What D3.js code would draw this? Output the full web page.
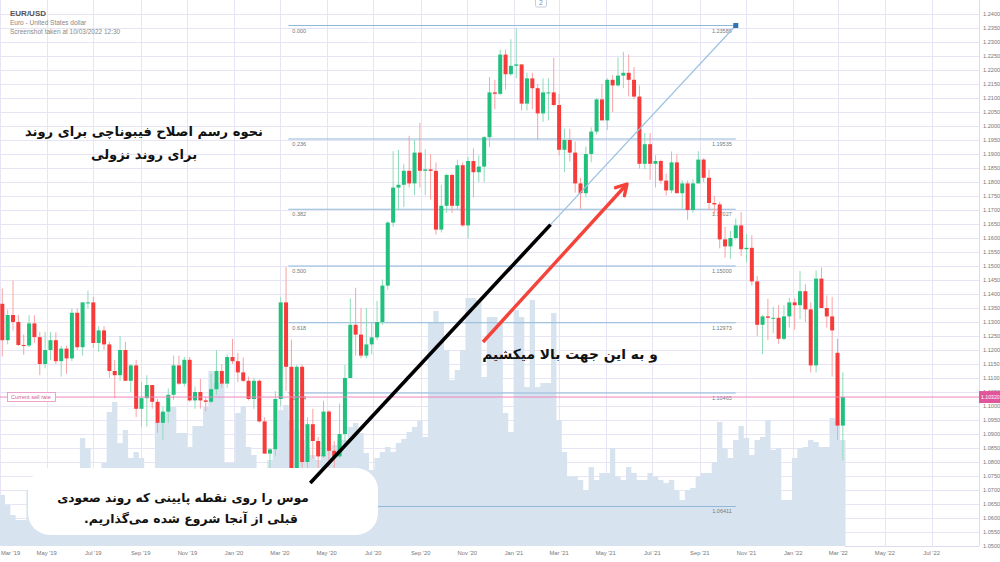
<!DOCTYPE html>
<html><head><meta charset="utf-8">
<script src="https://cdn.jsdelivr.net/npm/d3@7"></script>
<style>
html,body{margin:0;padding:0;background:#fff;}
svg{display:block;font-family:"Liberation Sans",Arial,sans-serif;}
</style>
</head><body>
<svg id="c" width="1000" height="562"></svg>
<script>
// ---------------- DATA ----------------
const firstWeek = new Date(2019, 2, 4);   // weekly candles, Monday of each week
const lastWeek  = new Date(2022, 2, 7);

const opens = [1.1365,1.1235,1.1325,1.1300,1.1218,1.1216,1.1295,1.1246,1.1150,1.1200,
1.1235,1.1160,1.1205,1.1170,1.1333,1.1210,1.1370,1.1370,1.1225,1.1270,
1.1220,1.1125,1.1110,1.1200,1.1090,1.1145,1.0990,1.1028,1.1075,1.1015,
1.0940,1.0980,1.1040,1.1145,1.1080,1.1165,1.1020,1.1050,1.1020,1.1015,
1.1060,1.1125,1.1080,1.1175,1.1160,1.1120,1.1090,1.1025,1.1090,1.0945,
1.0830,1.0845,1.1025,1.1370,1.1140,1.0690,1.1140,1.0800,1.0935,1.0875,
1.0820,1.0980,1.0840,1.0820,1.0900,1.1100,1.1290,1.1255,1.1180,1.1220,
1.1245,1.1300,1.1430,1.1655,1.1780,1.1790,1.1840,1.1795,1.1905,1.1840,
1.1845,1.1840,1.1630,1.1715,1.1825,1.1715,1.1860,1.1645,1.1875,1.1835,
1.1855,1.1960,1.2120,1.2115,1.2255,1.2185,1.2215,1.2220,1.2080,1.2170,
1.2135,1.2045,1.2120,1.2120,1.2075,1.1915,1.1950,1.1905,1.1795,1.1760,
1.1900,1.1980,1.2095,1.2020,1.2165,1.2145,1.2180,1.2190,1.2165,1.2105,
1.1865,1.1935,1.1865,1.1875,1.1805,1.1770,1.1870,1.1760,1.1795,1.1700,
1.1795,1.1880,1.1815,1.1725,1.1720,1.1595,1.1570,1.1600,1.1645,1.1560,
1.1565,1.1445,1.1290,1.1320,1.1315,1.1315,1.1240,1.1320,1.1370,1.1360,
1.1410,1.1345,1.1145,1.1455,1.1350,1.1320,1.1190,1.0930];

const highs = [1.1420,1.1345,1.1448,1.1325,1.1255,1.1325,1.1324,1.1265,1.1265,1.1264,
1.1263,1.1215,1.1215,1.1348,1.1348,1.1370,1.1412,1.1390,1.1285,1.1285,
1.1230,1.1165,1.1250,1.1230,1.1150,1.1165,1.1085,1.1110,1.1075,1.1025,
1.0998,1.1063,1.1180,1.1180,1.1175,1.1175,1.1070,1.1097,1.1030,1.1115,
1.1200,1.1150,1.1185,1.1240,1.1190,1.1173,1.1105,1.1100,1.1095,1.0960,
1.0850,1.1053,1.1390,1.1496,1.1237,1.1147,1.1148,1.0960,1.0990,1.0890,
1.1019,1.0985,1.0875,1.1008,1.1147,1.1384,1.1422,1.1350,1.1350,1.1300,
1.1375,1.1452,1.1660,1.1910,1.1915,1.1865,1.1965,1.1950,1.2011,1.1917,
1.1900,1.1870,1.1790,1.1830,1.1830,1.1880,1.1870,1.1890,1.1920,1.1895,
1.1965,1.2175,1.2165,1.2273,1.2273,1.2310,1.2349,1.2220,1.2190,1.2190,
1.2150,1.2170,1.2170,1.2244,1.2115,1.1990,1.1990,1.1945,1.1815,1.1927,
1.1995,1.2100,1.2150,1.2170,1.2181,1.2245,1.2265,1.2255,1.2210,1.2145,
1.1975,1.1975,1.1895,1.1880,1.1830,1.1909,1.1900,1.1806,1.1805,1.1810,
1.1910,1.1885,1.1845,1.1750,1.1730,1.1640,1.1625,1.1670,1.1692,1.1615,
1.1610,1.1465,1.1325,1.1383,1.1355,1.1360,1.1360,1.1386,1.1385,1.1482,
1.1435,1.1370,1.1484,1.1495,1.1395,1.1390,1.1240,1.1120];

const lows = [1.1177,1.1220,1.1270,1.1214,1.1183,1.1210,1.1226,1.1110,1.1135,1.1165,
1.1150,1.1105,1.1115,1.1160,1.1200,1.1180,1.1348,1.1207,1.1193,1.1200,
1.1101,1.1027,1.1090,1.1090,1.1050,1.0960,1.0926,1.0927,1.0990,1.0905,
1.0879,1.0940,1.1022,1.1075,1.1070,1.1015,1.0990,1.0990,1.0981,1.1010,
1.1040,1.1065,1.1065,1.1150,1.1085,1.1085,1.1020,1.0990,1.0940,1.0830,
1.0778,1.0820,1.1000,1.1053,1.0636,1.0636,1.0780,1.0770,1.0813,1.0727,
1.0815,1.0782,1.0775,1.0815,1.0870,1.1100,1.1180,1.1170,1.1170,1.1185,
1.1235,1.1290,1.1415,1.1640,1.1700,1.1710,1.1780,1.1753,1.1780,1.1753,
1.1737,1.1612,1.1620,1.1690,1.1690,1.1700,1.1640,1.1600,1.1745,1.1800,
1.1800,1.1925,1.2060,1.2110,1.2130,1.2180,1.2170,1.2055,1.2055,1.2060,
1.1950,1.2015,1.2020,1.2070,1.1895,1.1835,1.1873,1.1762,1.1704,1.1745,
1.1870,1.1970,1.2025,1.1985,1.2050,1.2140,1.2135,1.2105,1.2095,1.1848,
1.1845,1.1807,1.1780,1.1794,1.1752,1.1760,1.1760,1.1705,1.1665,1.1690,
1.1795,1.1800,1.1700,1.1685,1.1563,1.1530,1.1525,1.1595,1.1535,1.1513,
1.1430,1.1250,1.1185,1.1235,1.1260,1.1222,1.1235,1.1280,1.1272,1.1310,
1.1300,1.1120,1.1120,1.1370,1.1280,1.1105,1.0880,1.0806];

const closes = [1.1235,1.1325,1.1300,1.1218,1.1216,1.1295,1.1246,1.1150,1.1200,1.1235,
1.1160,1.1205,1.1170,1.1333,1.1210,1.1370,1.1370,1.1225,1.1270,1.1220,
1.1125,1.1110,1.1200,1.1090,1.1145,1.0990,1.1028,1.1075,1.1015,1.0940,
1.0980,1.1040,1.1145,1.1080,1.1165,1.1020,1.1050,1.1020,1.1015,1.1060,
1.1125,1.1080,1.1175,1.1160,1.1120,1.1090,1.1025,1.1090,1.0945,1.0830,
1.0845,1.1025,1.1370,1.1140,1.0690,1.1140,1.0800,1.0935,1.0875,1.0820,
1.0980,1.0840,1.0820,1.0900,1.1100,1.1290,1.1255,1.1180,1.1220,1.1245,
1.1300,1.1430,1.1655,1.1780,1.1790,1.1840,1.1795,1.1905,1.1840,1.1845,
1.1840,1.1630,1.1715,1.1825,1.1715,1.1860,1.1645,1.1875,1.1835,1.1855,
1.1960,1.2120,1.2115,1.2255,1.2185,1.2215,1.2220,1.2080,1.2170,1.2135,
1.2045,1.2120,1.2120,1.2075,1.1915,1.1950,1.1905,1.1795,1.1760,1.1900,
1.1980,1.2095,1.2020,1.2165,1.2145,1.2180,1.2190,1.2165,1.2105,1.1865,
1.1935,1.1865,1.1875,1.1805,1.1770,1.1870,1.1760,1.1795,1.1700,1.1795,
1.1880,1.1815,1.1725,1.1720,1.1595,1.1570,1.1600,1.1645,1.1560,1.1565,
1.1445,1.1290,1.1320,1.1315,1.1315,1.1240,1.1320,1.1370,1.1360,1.1410,
1.1345,1.1145,1.1455,1.1350,1.1320,1.1270,1.0930,1.1032];

const volumes = [51,41,31,26,26,56,61,66,58,54,
60,56,51,66,76,108,98,71,71,83,
134,144,103,116,88,94,88,76,76,124,
133,139,139,113,113,99,120,120,139,175,
163,163,83,83,133,140,99,91,78,78,
86,96,136,141,126,116,106,96,91,86,
91,96,101,106,106,119,123,113,93,76,
88,94,99,94,103,107,114,119,125,109,
224,235,224,196,166,176,196,248,248,246,
169,229,229,224,133,114,236,229,159,246,
159,163,163,233,126,94,69,69,66,56,
79,66,73,73,98,69,66,79,73,66,
66,73,69,66,63,66,56,46,56,58,
69,73,73,84,124,98,88,106,120,108,
91,106,109,126,96,98,46,46,88,98,
99,106,104,99,99,128,126,106];

const fibRatios = [0, 0.236, 0.382, 0.5, 0.618, 0.764, 1];
const fibHigh = 1.23589, fibLow = 1.06411;
const fibStart = new Date(2020, 2, 12), fibEnd = new Date(2021, 9, 18);
const currentRate = 1.1032;
const priceTickStep = 0.005, priceMin = 1.05, priceMax = 1.24;

// ---------------- SCALES ----------------
const svg = d3.select("#c");
const plotR = 979, plotB = 546;
const x = d3.scaleTime().domain([new Date(2019, 2, 1), new Date(2022, 8, 1)]).range([0, plotR]);
const y = d3.scaleLinear().domain([1.05, 1.245]).range([plotB, 0]);
const yv = d3.scaleLinear().domain([0, 250]).range([plotB, plotB - 250]);
const weeks = d3.timeMonday.range(firstWeek, d3.timeDay.offset(lastWeek, 1));
const candles = weeks.map((d, i) => ({d, o: opens[i], h: highs[i], l: lows[i], c: closes[i], v: volumes[i]}));
const weekW = x(d3.timeWeek.offset(firstWeek, 1)) - x(firstWeek);

svg.append("defs").append("clipPath").attr("id", "clip")
  .append("rect").attr("x", 0).attr("y", 0).attr("width", plotR).attr("height", plotB);
const plot = svg.append("g").attr("clip-path", "url(#clip)");

// gridlines
const priceTicks = d3.range(Math.round((priceMax - priceMin) / priceTickStep) + 1).map(i => priceMin + i * priceTickStep);
const monthTicks = x.ticks(d3.timeMonth.every(2));
plot.append("g").selectAll("line").data(priceTicks).join("line")
  .attr("x1", 0).attr("x2", plotR).attr("y1", d => Math.round(y(d)) + 0.5).attr("y2", d => Math.round(y(d)) + 0.5)
  .attr("stroke", "#e7e5f5").attr("stroke-width", 1);
plot.append("g").selectAll("line").data(monthTicks).join("line")
  .attr("y1", 0).attr("y2", plotB).attr("x1", d => Math.round(x(d)) + 0.5).attr("x2", d => Math.round(x(d)) + 0.5)
  .attr("stroke", "#e7e5f5").attr("stroke-width", 1);

// volume (step area)
const volPts = candles.map(c => [x(c.d) - weekW / 2, c.v]);
volPts.push([x(candles[candles.length - 1].d) + weekW / 2, candles[candles.length - 1].v]);
plot.append("path").datum(volPts)
  .attr("d", d3.area().curve(d3.curveStepAfter).x(p => p[0]).y0(plotB).y1(p => yv(p[1])))
  .attr("fill", "#d7e4f0");

// fib horizontal levels
const fibVal = r => fibHigh - r * (fibHigh - fibLow);
const fx0 = x(fibStart), fx1 = x(fibEnd);
const fibG = plot.append("g");
fibG.selectAll("line").data(fibRatios).join("line")
  .attr("x1", fx0).attr("x2", fx1).attr("y1", r => y(fibVal(r))).attr("y2", r => y(fibVal(r)))
  .attr("stroke", "#8fb8d9").attr("stroke-width", 1.2);
// left ratio labels (the 1.000 one lies under the callout box, so it is not drawn)
fibG.selectAll("text.l").data(fibRatios.filter(r => r < 1)).join("text").attr("class", "l")
  .attr("x", fx0 + 4).attr("y", r => y(fibVal(r)) + 7).attr("font-size", 5.5).attr("fill", "#777")
  .text(r => r.toFixed(3));
fibG.selectAll("text.r").data(fibRatios).join("text").attr("class", "r")
  .attr("x", fx1 - 4).attr("y", r => y(fibVal(r)) + 7).attr("font-size", 5.5).attr("fill", "#777")
  .attr("text-anchor", "end").text(r => fibVal(r).toFixed(5));

// candles
const up = "#22c07d", dn = "#f73b3b";
const cg = plot.append("g").selectAll("g").data(candles).join("g");
cg.append("line")
  .attr("x1", c => x(c.d)).attr("x2", c => x(c.d)).attr("y1", c => y(c.h)).attr("y2", c => y(c.l))
  .attr("stroke", c => c.c >= c.o ? "#8fdcb8" : "#f7a3a3").attr("stroke-width", 1);
cg.append("rect")
  .attr("x", c => x(c.d) - 2).attr("width", 4)
  .attr("y", c => y(Math.max(c.o, c.c)))
  .attr("height", c => Math.max(1, Math.abs(y(c.o) - y(c.c))))
  .attr("fill", c => c.c >= c.o ? up : dn);

// fib diagonal
plot.append("line").attr("x1", fx0).attr("y1", y(fibLow)).attr("x2", fx1).attr("y2", y(fibHigh))
  .attr("stroke", "#9cc2e0").attr("stroke-width", 1.2);
svg.append("rect").attr("x", fx1 - 2.5).attr("y", y(fibHigh) - 2.5).attr("width", 5).attr("height", 5).attr("fill", "#2f73b5");

// current sell rate
plot.append("line").attr("x1", 0).attr("x2", plotR).attr("y1", y(currentRate)).attr("y2", y(currentRate))
  .attr("stroke", "#ef86bb").attr("stroke-width", 1);
svg.append("rect").attr("x", 7.5).attr("y", y(currentRate) - 4.5).attr("width", 48).attr("height", 9)
  .attr("fill", "#fff").attr("stroke", "#eb8cbd").attr("stroke-width", 0.8);
svg.append("text").attr("x", 11).attr("y", y(currentRate) + 2).attr("font-size", 5.6).attr("fill", "#d5589a").text("Current sell rate");

// borders
svg.append("line").attr("x1", plotR + 0.5).attr("x2", plotR + 0.5).attr("y1", 0).attr("y2", plotB).attr("stroke", "#dcdcec");
svg.append("line").attr("x1", 845).attr("x2", plotR).attr("y1", plotB + 0.5).attr("y2", plotB + 0.5).attr("stroke", "#dcdcec");

// y labels
svg.append("g").selectAll("text").data(priceTicks).join("text")
  .attr("x", 983).attr("y", d => y(d) + 2).attr("font-size", 5.6).attr("fill", "#777")
  .text(d => d.toFixed(4));
svg.append("rect").attr("x", plotR).attr("y", y(currentRate) - 6).attr("width", 22).attr("height", 12).attr("fill", "#e0559c");
svg.append("text").attr("x", 981).attr("y", y(currentRate) + 2).attr("font-size", 5.2).attr("fill", "#fff").text(currentRate.toFixed(5));

// x labels
const fmt = d3.timeFormat("%b '%y");
svg.append("g").selectAll("text").data(monthTicks.filter(d => x(d) < 960)).join("text")
  .attr("x", d => x(d) < 10 ? 1 : x(d)).attr("text-anchor", d => x(d) < 10 ? "start" : "middle")
  .attr("y", 555).attr("font-size", 5.8).attr("fill", "#777").text(fmt);

// header
svg.append("text").attr("x", 10).attr("y", 16).attr("font-size", 8).attr("font-weight", "bold").attr("fill", "#555").text("EUR/USD");
svg.append("text").attr("x", 10).attr("y", 25).attr("font-size", 6.5).attr("fill", "#888").text("Euro - United States dollar");
svg.append("text").attr("x", 10).attr("y", 33.5).attr("font-size", 6.5).attr("fill", "#888").text("Screenshot taken at 10/03/2022 12:30");
svg.append("rect").attr("x", 535.5).attr("y", -3).attr("width", 11).attr("height", 10).attr("rx", 1.5).attr("fill", "#fff").attr("stroke", "#c8cde0");
svg.append("text").attr("x", 541).attr("y", 5).attr("text-anchor", "middle").attr("font-size", 7).attr("fill", "#8090b0").text("2");

// ---------------- ANNOTATIONS ----------------
const fa = "DejaVu Sans, Noto Sans, sans-serif";
function fa_text(t, cx, by, size) {
  svg.append("text").attr("x", cx).attr("y", by).attr("text-anchor", "middle")
    .attr("direction", "rtl").style("direction", "rtl")
    .attr("font-family", fa).attr("font-weight", "bold").attr("font-size", size).attr("fill", "#111").text(t);
}
fa_text("نحوه رسم اصلاح فیبوناچی برای روند", 144, 136, 13.1);
fa_text("برای روند نزولی", 144, 159, 13.1);

// callout box
svg.append("rect").attr("x", 28).attr("y", 468).attr("width", 350).attr("height", 67).attr("rx", 22).attr("fill", "#fff");

// black line along diagonal
const diagPt = t => [fx0 + t * (fx1 - fx0), y(fibLow) + t * (y(fibHigh) - y(fibLow))];
const b0 = diagPt(0.049), b1 = diagPt(0.586);
svg.append("line").attr("x1", b0[0]).attr("y1", b0[1]).attr("x2", b1[0]).attr("y2", b1[1])
  .attr("stroke", "#000").attr("stroke-width", 3.6);

fa_text("موس را روی نقطه پایینی که روند صعودی", 183, 502, 12.2);
fa_text("قبلی از آنجا شروع شده می‌گذاریم.", 191, 523, 12.4);

// red arrow
const a0 = [483, 342], a1 = [627, 184];
svg.append("line").attr("x1", a0[0]).attr("y1", a0[1]).attr("x2", a1[0]).attr("y2", a1[1])
  .attr("stroke", "#f4433a").attr("stroke-width", 3.4);
const ang = Math.atan2(a1[1] - a0[1], a1[0] - a0[0]);
const hl = 12, hw = Math.PI / 6;
svg.append("path")
  .attr("d", `M${a1[0] - hl * Math.cos(ang - hw)},${a1[1] - hl * Math.sin(ang - hw)} L${a1[0]},${a1[1]} L${a1[0] - hl * Math.cos(ang + hw)},${a1[1] - hl * Math.sin(ang + hw)}`)
  .attr("fill", "none").attr("stroke", "#f4433a").attr("stroke-width", 3.4).attr("stroke-linecap", "round").attr("stroke-linejoin", "round");

fa_text("و به این جهت بالا میکشیم", 570, 359, 13.8);
</script>
</body></html>
